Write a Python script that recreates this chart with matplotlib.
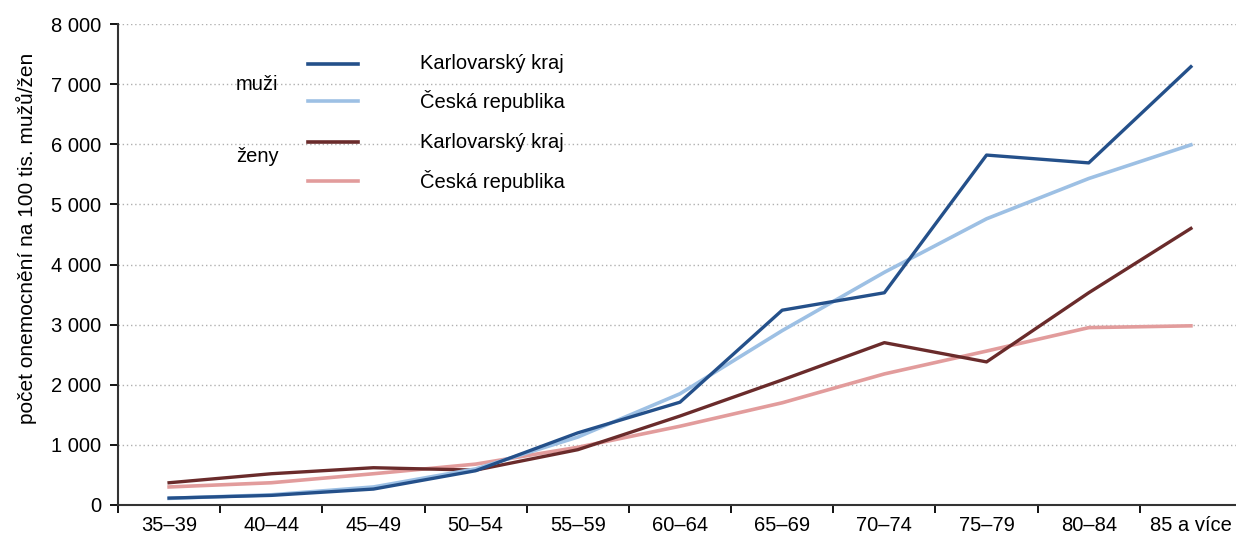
import matplotlib.pyplot as plt
from matplotlib.lines import Line2D
from matplotlib.ticker import FuncFormatter, FixedLocator, NullFormatter

plt.rcParams['font.family'] = ['Liberation Sans', 'DejaVu Sans']

# age groups and incidence per 100k
categories = ['35–39', '40–44', '45–49', '50–54', '55–59', '60–64',
              '65–69', '70–74', '75–79', '80–84', '85 a více']
kv_muzi = [115, 160, 265, 570, 1200, 1710, 3240, 3530, 5820, 5690, 7290]
cr_muzi = [110, 170, 300, 600, 1130, 1850, 2900, 3870, 4760, 5430, 5990]
kv_zeny = [370, 520, 620, 580, 920, 1480, 2080, 2700, 2380, 3530, 4600]
cr_zeny = [300, 370, 520, 680, 960, 1310, 1700, 2180, 2560, 2950, 2980]

c_kv_m = '#24508a'
c_cr_m = '#9dc0e4'
c_kv_z = '#6a2b2b'
c_cr_z = '#e29c9c'

fs = 14.5

fig = plt.figure(figsize=(12.36, 5.38), dpi=100)
ax = fig.add_axes([118 / 1236, 33 / 538, 1124 / 1236, 481 / 538])

x = list(range(len(categories)))
ax.plot(x, cr_zeny, color=c_cr_z, lw=2.6, zorder=3)
ax.plot(x, kv_zeny, color=c_kv_z, lw=2.4, zorder=4)
ax.plot(x, cr_muzi, color=c_cr_m, lw=2.6, zorder=5)
ax.plot(x, kv_muzi, color=c_kv_m, lw=2.4, zorder=6)

ax.set_xlim(-0.5, len(categories) - 0.5)
ax.set_ylim(0, 8000)
ax.set_yticks(range(0, 8001, 1000))
ax.yaxis.set_major_formatter(FuncFormatter(lambda v, p: f'{int(v):,}'.replace(',', ' ')))

# category labels centred, tick marks on the boundaries
ax.xaxis.set_major_locator(FixedLocator([i - 0.5 for i in range(len(categories) + 1)]))
ax.xaxis.set_major_formatter(NullFormatter())
ax.xaxis.set_minor_locator(FixedLocator(x))
ax.set_xticklabels(categories, minor=True)
ax.tick_params(axis='x', which='minor', length=0, pad=8, labelsize=fs)
ax.tick_params(axis='x', which='major', length=6, width=1.3, direction='out')
ax.tick_params(axis='y', length=6, width=1.3, direction='out', labelsize=fs, pad=6)

for s in ['top', 'right']:
    ax.spines[s].set_visible(False)
for s in ['left', 'bottom']:
    ax.spines[s].set_linewidth(1.5)
    ax.spines[s].set_color('#333333')

ax.yaxis.grid(True, linestyle=(0, (1, 2)), color='#b0b0b0', lw=1)
ax.set_axisbelow(True)

ax.set_ylabel('počet onemocnění na 100 tis. mužů/žen', fontsize=15)
ax.yaxis.set_label_coords(-0.072, 0.554)

# custom legend with group labels
leg_rows = [('Karlovarský kraj', c_kv_m, 64), ('Česká republika', c_cr_m, 101),
            ('Karlovarský kraj', c_kv_z, 142), ('Česká republika', c_cr_z, 181)]
for label, col, yp in leg_rows:
    fy = 1 - yp / 538
    fig.add_artist(Line2D([308 / 1236, 358 / 1236], [fy, fy], color=col, lw=2.6))
    fig.text(420 / 1236, fy, label, fontsize=fs, va='center', ha='left')
fig.text(236 / 1236, 1 - 85 / 538, 'muži', fontsize=fs, va='center', ha='left')
fig.text(236 / 1236, 1 - 157 / 538, 'ženy', fontsize=fs, va='center', ha='left')

fig.savefig('out.png', dpi=100)
